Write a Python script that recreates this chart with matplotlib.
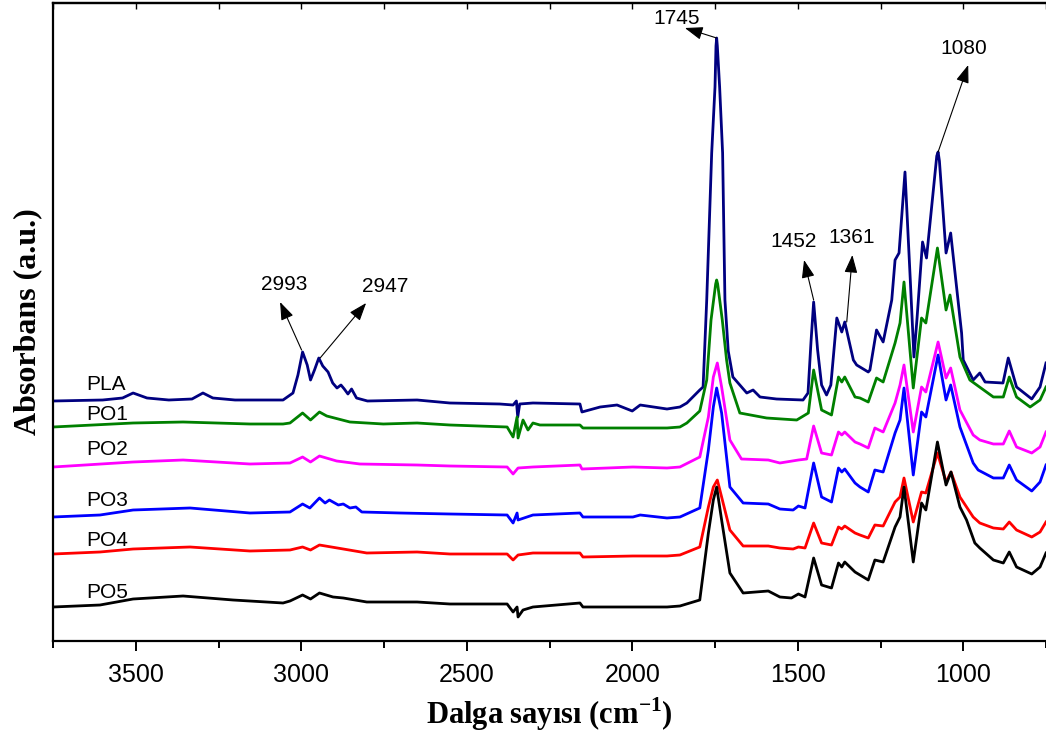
import numpy as np
import matplotlib
matplotlib.use("Agg")
import matplotlib.pyplot as plt
from matplotlib.ticker import MultipleLocator

plt.rcParams["mathtext.fontset"] = "custom"
plt.rcParams["mathtext.rm"] = "Liberation Serif:bold"
plt.rcParams["mathtext.bf"] = "Liberation Serif:bold"

# FTIR spektrumlari: (dalga sayisi cm-1, absorbans a.u.)
pla = [(3750, 2.40), (3600, 2.41), (3540, 2.43), (3508, 2.48), (3466, 2.43), (3400, 2.41),
       (3330, 2.42), (3297, 2.48), (3267, 2.43), (3200, 2.41), (3055, 2.41), (3025, 2.48),
       (3010, 2.66), (2996, 2.89), (2982, 2.76), (2972, 2.61), (2960, 2.71), (2947, 2.83),
       (2935, 2.75), (2919, 2.69), (2905, 2.58), (2892, 2.53), (2880, 2.56), (2870, 2.52),
       (2859, 2.47), (2848, 2.52), (2833, 2.43), (2800, 2.40), (2650, 2.41), (2551, 2.38),
       (2400, 2.37), (2360, 2.36), (2350, 2.40), (2346, 2.24), (2340, 2.37), (2300, 2.38),
       (2158, 2.37), (2152, 2.29), (2097, 2.34), (2046, 2.36), (2000, 2.30), (1976, 2.36),
       (1895, 2.32), (1856, 2.34), (1835, 2.38), (1796, 2.51), (1786, 2.54), (1775, 3.41),
       (1760, 4.88), (1750, 5.54), (1747, 5.95), (1745, 6.03), (1743, 5.95), (1736, 5.54),
       (1727, 4.88), (1720, 3.41), (1710, 2.90),
       (1696, 2.64), (1654, 2.48), (1635, 2.51), (1614, 2.44), (1564, 2.42), (1484, 2.41),
       (1469, 2.48), (1460, 2.99), (1452, 3.39), (1440, 2.91), (1428, 2.56), (1413, 2.46),
       (1400, 2.56), (1382, 3.23), (1367, 3.09), (1358, 3.19), (1332, 2.81), (1322, 2.76),
       (1287, 2.69), (1282, 2.71), (1262, 3.11), (1242, 2.99), (1216, 3.41), (1206, 3.81),
       (1194, 3.88), (1176, 4.69), (1160, 3.61), (1149, 2.84), (1140, 3.21), (1123, 3.99),
       (1111, 3.83), (1080, 4.85), (1076, 4.89), (1072, 4.80), (1052, 3.88), (1038, 4.08),
       (1005, 3.08), (1000, 2.81),
       (970, 2.61), (950, 2.68), (934, 2.59), (880, 2.58), (864, 2.83), (839, 2.54),
       (793, 2.42), (768, 2.54), (750, 2.78)]

po1 = [(3750, 2.14), (3508, 2.18), (3357, 2.19), (3155, 2.17), (3055, 2.17), (3034, 2.18),
       (2996, 2.28), (2972, 2.21), (2945, 2.29), (2923, 2.25), (2853, 2.19), (2752, 2.17),
       (2650, 2.18), (2551, 2.16), (2378, 2.14), (2360, 2.04), (2348, 2.24), (2345, 2.03),
       (2330, 2.21), (2315, 2.11), (2300, 2.18), (2279, 2.16), (2158, 2.16), (2149, 2.13),
       (1998, 2.13), (1895, 2.13), (1856, 2.14), (1835, 2.18), (1796, 2.30), (1775, 2.61),
       (1762, 3.21), (1748, 3.57), (1745, 3.61), (1742, 3.57), (1728, 3.21), (1715, 2.81),
       (1705, 2.58), (1675, 2.28),
       (1594, 2.23), (1503, 2.21), (1468, 2.28), (1452, 2.71), (1428, 2.31), (1398, 2.26),
       (1377, 2.64), (1367, 2.59), (1358, 2.64), (1327, 2.44), (1312, 2.43), (1287, 2.39),
       (1262, 2.63), (1242, 2.59), (1206, 2.98), (1191, 3.18), (1179, 3.59), (1151, 2.53),
       (1126, 3.23), (1113, 3.18), (1078, 3.93), (1052, 3.31), (1040, 3.46), (1010, 2.84),
       (980, 2.61), (955, 2.55), (909, 2.44), (879, 2.44), (861, 2.64), (839, 2.44),
       (798, 2.34), (768, 2.41), (750, 2.54)]

po2 = [(3750, 1.74), (3508, 1.79), (3357, 1.81), (3155, 1.77), (3034, 1.78), (2996, 1.84),
       (2972, 1.79), (2945, 1.85), (2893, 1.80), (2823, 1.77), (2650, 1.76), (2551, 1.75),
       (2378, 1.74), (2360, 1.67), (2345, 1.73), (2300, 1.74), (2158, 1.76), (2152, 1.72),
       (1998, 1.74), (1895, 1.73), (1856, 1.74), (1796, 1.84), (1770, 2.24), (1755, 2.64),
       (1743, 2.78), (1730, 2.54), (1705, 2.01), (1670, 1.82), (1589, 1.81), (1554, 1.78),
       (1498, 1.81), (1473, 1.82), (1452, 2.15), (1428, 1.88), (1398, 1.86), (1377, 2.09),
       (1367, 2.06), (1358, 2.09), (1327, 1.99), (1312, 1.97), (1287, 1.93), (1267, 2.13),
       (1242, 2.09), (1206, 2.38), (1191, 2.56), (1179, 2.76), (1151, 2.09), (1126, 2.54),
       (1113, 2.49), (1076, 2.99), (1052, 2.63), (1038, 2.73), (1010, 2.31), (970, 2.06),
       (950, 2.01), (909, 1.97), (879, 1.97), (861, 2.10), (839, 1.94), (793, 1.88),
       (768, 1.94), (750, 2.09)]

po3 = [(3750, 1.24), (3608, 1.26), (3508, 1.31), (3336, 1.33), (3155, 1.28), (3034, 1.29),
       (2996, 1.37), (2974, 1.33), (2945, 1.43), (2928, 1.38), (2915, 1.41), (2888, 1.36),
       (2873, 1.37), (2853, 1.33), (2835, 1.34), (2817, 1.29), (2702, 1.28), (2551, 1.27),
       (2378, 1.26), (2360, 1.18), (2348, 1.28), (2345, 1.21), (2300, 1.26), (2158, 1.28),
       (2149, 1.24), (1998, 1.24), (1976, 1.26), (1895, 1.23), (1856, 1.24), (1796, 1.33),
       (1770, 1.91), (1755, 2.34), (1745, 2.53), (1730, 2.28), (1705, 1.54), (1665, 1.38),
       (1589, 1.37), (1554, 1.32), (1514, 1.31), (1498, 1.35), (1478, 1.33), (1452, 1.78),
       (1428, 1.44), (1398, 1.39), (1377, 1.73), (1367, 1.69), (1358, 1.72), (1327, 1.58),
       (1312, 1.54), (1287, 1.49), (1267, 1.71), (1242, 1.69), (1206, 2.08), (1191, 2.21),
       (1179, 2.53), (1151, 1.66), (1126, 2.29), (1113, 2.24), (1076, 2.86), (1052, 2.41),
       (1038, 2.56), (1010, 2.14), (970, 1.78), (955, 1.71), (909, 1.63), (879, 1.63),
       (861, 1.76), (839, 1.61), (793, 1.50), (768, 1.59), (750, 1.76)]

po4 = [(3750, 0.87), (3608, 0.89), (3508, 0.92), (3336, 0.94), (3155, 0.90), (3034, 0.91),
       (2996, 0.94), (2972, 0.91), (2945, 0.96), (2873, 0.92), (2802, 0.88), (2650, 0.89),
       (2551, 0.87), (2378, 0.87), (2360, 0.81), (2345, 0.86), (2300, 0.88), (2158, 0.88),
       (2149, 0.84), (1998, 0.85), (1895, 0.85), (1856, 0.86), (1796, 0.94), (1770, 1.34),
       (1755, 1.54), (1743, 1.61), (1730, 1.44), (1705, 1.11), (1665, 0.95), (1589, 0.95),
       (1554, 0.93), (1514, 0.92), (1498, 0.94), (1478, 0.93), (1452, 1.18), (1428, 0.98),
       (1398, 0.96), (1377, 1.14), (1367, 1.12), (1358, 1.15), (1327, 1.08), (1312, 1.06),
       (1287, 1.03), (1267, 1.16), (1242, 1.15), (1206, 1.39), (1191, 1.44), (1179, 1.63),
       (1151, 1.19), (1126, 1.49), (1113, 1.48), (1078, 1.88), (1052, 1.59), (1037, 1.69),
       (1010, 1.44), (970, 1.24), (950, 1.18), (909, 1.13), (879, 1.12), (861, 1.19),
       (839, 1.11), (793, 1.04), (768, 1.09), (750, 1.19)]

po5 = [(3750, 0.34), (3608, 0.36), (3508, 0.42), (3357, 0.45), (3206, 0.41), (3055, 0.38),
       (3034, 0.40), (2996, 0.46), (2972, 0.42), (2945, 0.48), (2904, 0.44), (2873, 0.43),
       (2802, 0.39), (2650, 0.39), (2551, 0.37), (2378, 0.37), (2360, 0.29), (2348, 0.34),
       (2345, 0.24), (2330, 0.31), (2300, 0.34), (2158, 0.38), (2149, 0.34), (1998, 0.34),
       (1895, 0.34), (1856, 0.35), (1796, 0.41), (1770, 1.08), (1755, 1.41), (1745, 1.54),
       (1730, 1.21), (1705, 0.68), (1665, 0.48), (1589, 0.50), (1554, 0.44), (1519, 0.43),
       (1498, 0.47), (1478, 0.44), (1452, 0.83), (1428, 0.56), (1398, 0.53), (1377, 0.78),
       (1367, 0.74), (1358, 0.79), (1327, 0.69), (1312, 0.66), (1287, 0.61), (1267, 0.81),
       (1242, 0.79), (1206, 1.14), (1191, 1.24), (1179, 1.54), (1151, 0.79), (1126, 1.38),
       (1113, 1.31), (1078, 1.99), (1052, 1.56), (1037, 1.69), (1010, 1.34), (990, 1.21),
       (965, 0.98), (950, 0.93), (909, 0.81), (879, 0.78), (861, 0.89), (839, 0.74),
       (793, 0.67), (768, 0.74), (750, 0.88)]

names = ["PLA", "PO1", "PO2", "PO3", "PO4", "PO5"]
colors = ["#000080", "#008000", "#FF00FF", "#0000FF", "#FF0000", "#000000"]
label_y = [2.56, 2.26, 1.91, 1.41, 1.01, 0.48]

# pik etiketleri: (metin, ok baslangici, ok ucu, metin konumu)
peaks = [("2993", (2999, 2.91), (3064, 3.39), (3052, 3.56)),
         ("2947", (2943, 2.83), (2804, 3.38), (2747, 3.54)),
         ("1745", (1745, 6.03), (1841, 6.13), (1865, 6.22)),
         ("1452", (1452, 3.41), (1481, 3.81), (1514, 3.99)),
         ("1361", (1352, 3.19), (1335, 3.86), (1336, 4.03)),
         ("1080", (1076, 4.89), (985, 5.76), (1000, 5.93))]

fig = plt.figure(figsize=(10.46, 7.42), dpi=100)
ax = fig.add_axes([53 / 1046, 101 / 742, 993 / 1046, 638 / 742])

for data, name, c, ly in zip([pla, po1, po2, po3, po4, po5], names, colors, label_y):
    arr = np.array(data)
    ax.plot(arr[:, 0], arr[:, 1], color=c, lw=2.0, solid_joinstyle="round")
    ax.text(3650, ly, name, fontsize=15, family="Liberation Sans", va="center", ha="left")

for txt, tail, head, pos in peaks:
    ax.annotate("", xy=head, xytext=tail,
                arrowprops=dict(arrowstyle="-|>,head_length=0.55,head_width=0.2",
                                mutation_scale=20, color="black", lw=0.8,
                                shrinkA=0, shrinkB=0))
    ax.text(pos[0], pos[1], txt, fontsize=15, family="Liberation Sans",
            ha="center", va="center")

ax.set_xlim(3750, 750)
ax.set_ylim(0, 6.38)
ax.xaxis.set_major_locator(MultipleLocator(500))
ax.xaxis.set_minor_locator(MultipleLocator(250))
ax.set_yticks([])
ax.spines["right"].set_visible(False)
for s in ["left", "bottom", "top"]:
    ax.spines[s].set_linewidth(1.6)
ax.tick_params(axis="x", which="major", direction="out", length=7, width=1.4,
               labelsize=18, pad=9)
ax.tick_params(axis="x", which="minor", direction="out", length=5, width=1.4)
for lbl in ax.get_xticklabels():
    lbl.set_family("Liberation Sans")

# ust eksen: sadece iceri bakan kucuk cizgiler
top = ax.secondary_xaxis("top")
top.xaxis.set_major_locator(MultipleLocator(500))
top.xaxis.set_minor_locator(MultipleLocator(250))
top.tick_params(which="both", direction="in", length=4, width=1.0, labeltop=False)
top.spines["top"].set_linewidth(1.6)

ax.set_xlabel("Dalga sayısı (cm$^{-1}$)", fontsize=22, fontweight="bold",
              family="Liberation Serif", labelpad=6)
ax.set_ylabel("Absorbans (a.u.)", fontsize=23, fontweight="bold",
              family="Liberation Serif", labelpad=8)

fig.savefig("out.png", dpi=100)
